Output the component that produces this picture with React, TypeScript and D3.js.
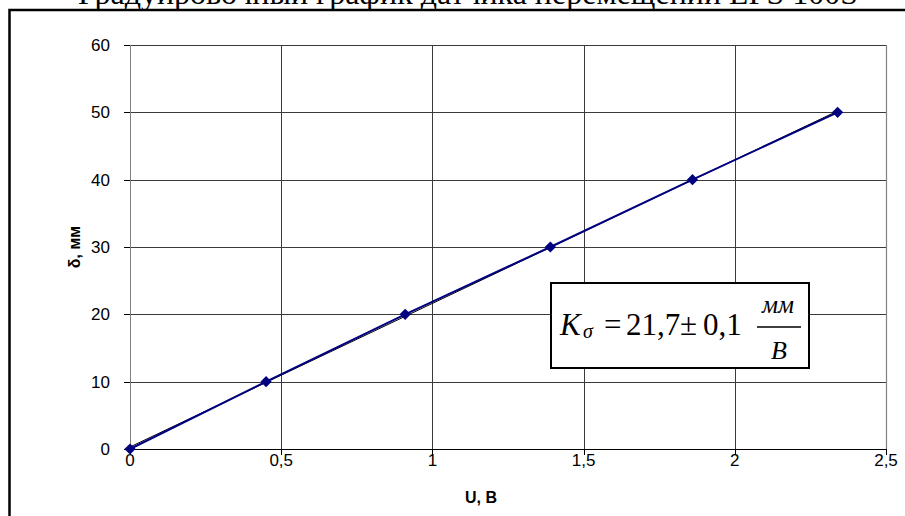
import React from "react";
import * as d3 from "d3";

const TITLE = "Градуировочный график датчика перемещений LPS 100S";
const U_VALUES = [0, 0.45, 0.91, 1.39, 1.86, 2.34];
const DELTA_VALUES = [0, 10, 20, 30, 40, 50];
const X_TICKS = [0, 0.5, 1, 1.5, 2, 2.5];
const Y_TICKS = [0, 10, 20, 30, 40, 50, 60];
const X_LABEL = "U, В";
const Y_LABEL = "δ, мм";

const W = 905;
const H = 516;
const PL = 130, PR = 886, PT = 45, PB = 449;

export default function App() {
  const x = d3.scaleLinear().domain([0, 2.5]).range([PL, PR]);
  const y = d3.scaleLinear().domain([0, 60]).range([PB, PT]);
  const pts = U_VALUES.map((u, i) => [u, DELTA_VALUES[i]] as [number, number]);
  const line = d3.line<[number, number]>().x(d => x(d[0])).y(d => y(d[1]));

  // linear trendline (least squares)
  const mx = d3.mean(U_VALUES)!;
  const my = d3.mean(DELTA_VALUES)!;
  let sxy = 0, sxx = 0;
  pts.forEach(([u, v]) => { sxy += (u - mx) * (v - my); sxx += (u - mx) ** 2; });
  const k = sxy / sxx;
  const b = my - k * mx;
  const [u0, u1] = d3.extent(U_VALUES) as [number, number];
  const trend: [number, number][] = [[u0, k * u0 + b], [u1, k * u1 + b]];

  const fmt = (v: number) => String(v).replace(".", ",");
  const diamond = d3.symbol().type(d3.symbolDiamond2).size(80)();
  const sans = "Arial, 'Liberation Sans', sans-serif";
  const serif = "'Liberation Serif', 'Times New Roman', serif";

  return (
    <svg width={W} height={H} style={{ position: "absolute", left: 0, top: 0, background: "#fff" }}>
      <rect x={0} y={0} width={W} height={H} fill="#fff" />
      <text x={468} y={4} textAnchor="middle" fontFamily={serif} fontSize={31} textLength={780} lengthAdjust="spacingAndGlyphs">{TITLE}</text>
      <rect x={9.5} y={10} width={W + 20} height={H + 20} fill="none" stroke="#000" strokeWidth={2.5} />

      {/* gridlines */}
      {Y_TICKS.map(t => (
        <line key={"gy" + t} x1={PL} x2={PR} y1={Math.round(y(t)) + 0.5} y2={Math.round(y(t)) + 0.5} stroke="#3a3a3a" strokeWidth={1} />
      ))}
      {X_TICKS.map(t => (
        <line key={"gx" + t} x1={Math.round(x(t)) + 0.5} x2={Math.round(x(t)) + 0.5} y1={PT} y2={PB} stroke="#3a3a3a" strokeWidth={1} />
      ))}
      <line x1={PR + 0.5} x2={PR + 0.5} y1={PT} y2={PB} stroke="#808080" strokeWidth={1.2} />
      {/* axes */}
      <line x1={PL + 0.5} x2={PL + 0.5} y1={PT} y2={PB} stroke="#808080" strokeWidth={1} />
      <line x1={PL} x2={PR + 1} y1={Math.round(y(0)) + 0.5} y2={Math.round(y(0)) + 0.5} stroke="#000" strokeWidth={1} />
      {Y_TICKS.map(t => (
        <g key={"ty" + t}>
          <line x1={PL - 6} x2={PL} y1={Math.round(y(t)) + 0.5} y2={Math.round(y(t)) + 0.5} stroke="#000" />
          <text x={110} y={y(t)} dy="0.36em" textAnchor="end" fontFamily={sans} fontSize={17}>{fmt(t)}</text>
        </g>
      ))}
      {X_TICKS.map(t => (
        <g key={"tx" + t}>
          <line x1={Math.round(x(t)) + 0.5} x2={Math.round(x(t)) + 0.5} y1={PB} y2={PB + 6} stroke="#000" />
          <text x={x(t)} y={466} textAnchor="middle" fontFamily={sans} fontSize={17}>{fmt(t)}</text>
        </g>
      ))}
      <text x={481} y={503} textAnchor="middle" fontFamily={sans} fontWeight="bold" fontSize={16}>{X_LABEL}</text>
      <text transform={`translate(80,247) rotate(-90)`} textAnchor="middle" fontFamily={sans} fontWeight="bold" fontSize={16}>{Y_LABEL}</text>

      {/* trendline */}
      <path d={line(trend)!} stroke="#000" strokeWidth={1} fill="none" />
      {/* series */}
      <path d={line(pts)!} stroke="#000080" strokeWidth={2} fill="none" />
      {pts.map((p, i) => (
        <path key={"m" + i} d={diamond!} transform={`translate(${x(p[0])},${y(p[1])})`} fill="#000080" />
      ))}

      {/* formula box */}
      <rect x={551} y={283} width={258} height={85} fill="#fff" stroke="#000" strokeWidth={2} />
      <g fontFamily={serif}>
        <text x={560} y={335} fontSize={31} fontStyle="italic">K</text>
        <text x={583} y={338} fontSize={20} fontStyle="italic">σ</text>
        <text x={604} y={335} fontSize={31}>=</text>
        <text x={626} y={335} fontSize={31}>21,7</text>
        <text x={680} y={335} fontSize={31}>±</text>
        <text x={703} y={335} fontSize={31}>0,1</text>
        <text x={778} y={313} fontSize={25} fontStyle="italic" textAnchor="middle">мм</text>
        <line x1={757} x2={801} y1={327} y2={327} stroke="#000" strokeWidth={1.3} />
        <text x={779} y={359} fontSize={26} fontStyle="italic" textAnchor="middle">B</text>
      </g>
    </svg>
  );
}
